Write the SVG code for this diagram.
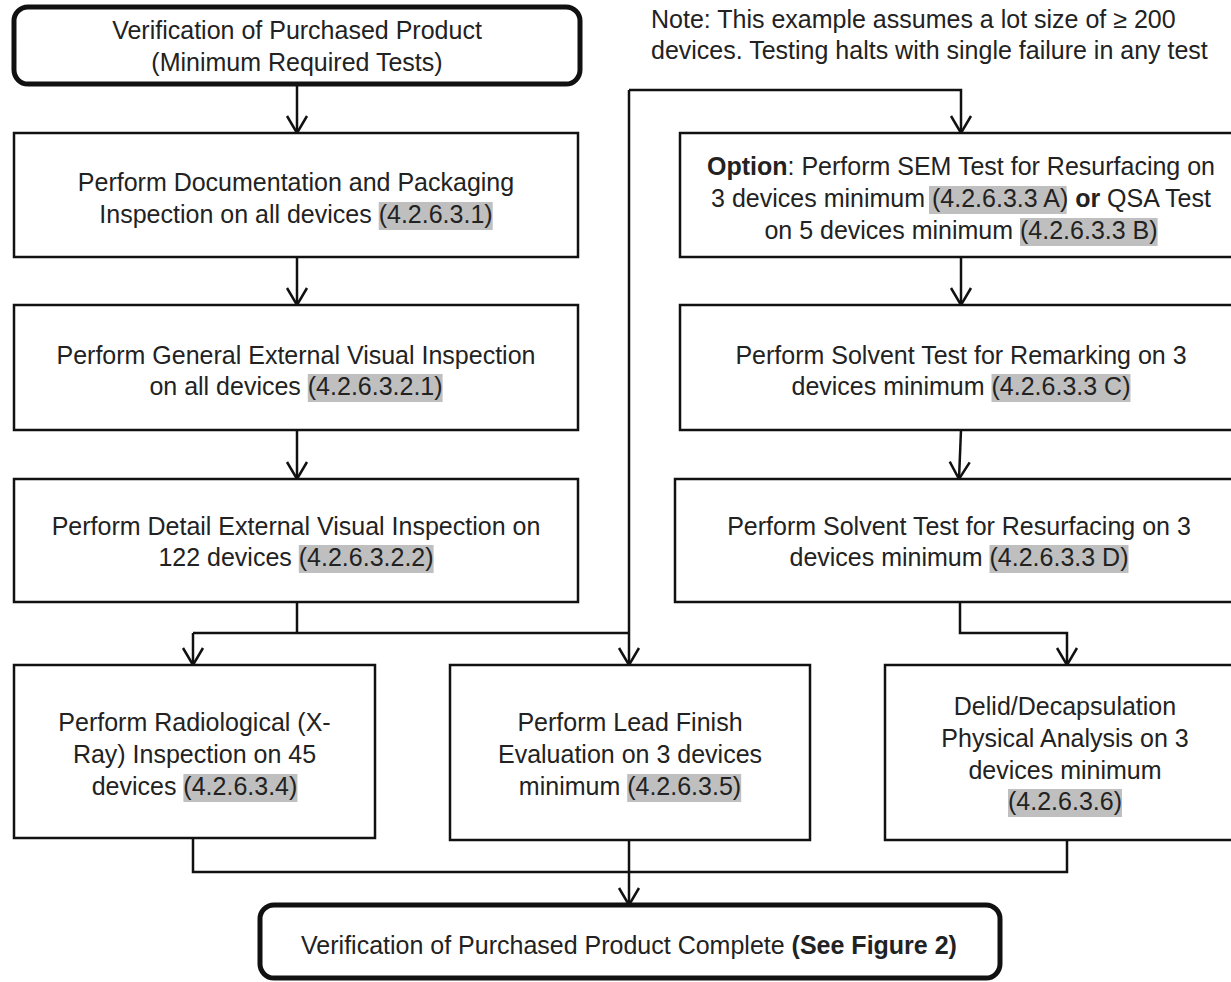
<svg xmlns="http://www.w3.org/2000/svg" width="1231" height="982" viewBox="0 0 1231 982">
<style>
.box{fill:#fff;stroke:#111;stroke-width:2.5}
.term{fill:#fff;stroke:#111;stroke-width:5}
.t{font-family:"Liberation Sans",Arial,sans-serif;font-size:25px;fill:#222;text-anchor:middle}
.ts{font-family:"Liberation Sans",Arial,sans-serif;font-size:25px;fill:#222;text-anchor:start}
.b{font-weight:bold}
.hl{fill:#bfbfbf}
.conn{fill:none;stroke:#111;stroke-width:2.5}
.arr{marker-end:url(#ah)}
</style>
<defs>
<marker id="ah" markerUnits="userSpaceOnUse" viewBox="-20 -12 22 24" markerWidth="22" markerHeight="24" refX="0" refY="0" orient="auto">
<path d="M-17,-10 L0,0 L-17,10" fill="none" stroke="#111" stroke-width="2.5"/>
</marker>
</defs>
<rect width="1231" height="982" fill="#fff"/>

<g id="connectors">
<path class="conn arr" d="M297,86 V133"/>
<path class="conn arr" d="M297,257 V305"/>
<path class="conn arr" d="M297,430 V479"/>
<path class="conn" d="M297,602 V633"/>
<path class="conn" d="M193,633 H629"/>
<path class="conn arr" d="M193,633 V665"/>
<path class="conn arr" d="M629,90 V665"/>
<path class="conn arr" d="M629,90 H961 V133"/>
<path class="conn arr" d="M961,257 V305"/>
<path class="conn arr" d="M961,430 L959,479"/>
<path class="conn arr" d="M960,602 V633 H1067 V665"/>
<path class="conn" d="M193,838 V872 H1067 V840"/>
<path class="conn arr" d="M629,840 V905"/>
</g>

<g id="note">
<text class="ts" x="651" y="28">Note: This example assumes a lot size of ≥ 200</text>
<text class="ts" x="651" y="59">devices. Testing halts with single failure in any test</text>
</g>

<g id="start">
<rect class="term" x="14" y="7" width="566" height="77" rx="14"/>
<text class="t" x="297" y="39">Verification of Purchased Product</text>
<text class="t" x="297" y="71">(Minimum Required Tests)</text>
</g>

<g id="doc-inspection">
<rect class="box" x="14" y="133" width="564" height="124"/>
<rect class="hl" x="378.7" y="202" width="114" height="28"/>
<text class="t" x="296" y="191">Perform Documentation and Packaging</text>
<text class="t" x="296" y="223">Inspection on all devices (4.2.6.3.1)</text>
</g>

<g id="general-visual">
<rect class="box" x="14" y="305" width="564" height="125"/>
<rect class="hl" x="307.8" y="374" width="134.8" height="28"/>
<text class="t" x="296" y="364">Perform General External Visual Inspection</text>
<text class="t" x="296" y="395">on all devices (4.2.6.3.2.1)</text>
</g>

<g id="detail-visual">
<rect class="box" x="14" y="479" width="564" height="123"/>
<rect class="hl" x="298.8" y="545" width="134.8" height="28"/>
<text class="t" x="296" y="535">Perform Detail External Visual Inspection on</text>
<text class="t" x="296" y="566">122 devices (4.2.6.3.2.2)</text>
</g>

<g id="sem-qsa">
<rect class="box" x="680" y="133" width="565" height="124"/>
<rect class="hl" x="929" y="186" width="137.6" height="28"/>
<rect class="hl" x="1020" y="218" width="137.6" height="28"/>
<text class="t" x="961" y="175"><tspan class="b">Option</tspan>: Perform SEM Test for Resurfacing on</text>
<text class="t" x="961" y="207">3 devices minimum (4.2.6.3.3 A) <tspan class="b">or</tspan> QSA Test</text>
<text class="t" x="961" y="239">on 5 devices minimum (4.2.6.3.3 B)</text>
</g>

<g id="solvent-remarking">
<rect class="box" x="680" y="305" width="565" height="125"/>
<rect class="hl" x="991.5" y="374" width="139" height="28"/>
<text class="t" x="961" y="364">Perform Solvent Test for Remarking on 3</text>
<text class="t" x="961" y="395">devices minimum (4.2.6.3.3 C)</text>
</g>

<g id="solvent-resurfacing">
<rect class="box" x="675" y="479" width="570" height="123"/>
<rect class="hl" x="989.5" y="545" width="139" height="28"/>
<text class="t" x="959" y="535">Perform Solvent Test for Resurfacing on 3</text>
<text class="t" x="959" y="566">devices minimum (4.2.6.3.3 D)</text>
</g>

<g id="radiological">
<rect class="box" x="14" y="665" width="361" height="173"/>
<rect class="hl" x="183.4" y="774" width="114" height="28"/>
<text class="t" x="194.5" y="731">Perform Radiological (X-</text>
<text class="t" x="194.5" y="763">Ray) Inspection on 45</text>
<text class="t" x="194.5" y="795">devices (4.2.6.3.4)</text>
</g>

<g id="lead-finish">
<rect class="box" x="450" y="665" width="360" height="175"/>
<rect class="hl" x="627.2" y="774" width="114" height="28"/>
<text class="t" x="630" y="731">Perform Lead Finish</text>
<text class="t" x="630" y="763">Evaluation on 3 devices</text>
<text class="t" x="630" y="795">minimum (4.2.6.3.5)</text>
</g>

<g id="delid">
<rect class="box" x="885" y="665" width="360" height="175"/>
<rect class="hl" x="1008" y="789" width="114" height="28"/>
<text class="t" x="1065" y="715">Delid/Decapsulation</text>
<text class="t" x="1065" y="747">Physical Analysis on 3</text>
<text class="t" x="1065" y="779">devices minimum</text>
<text class="t" x="1065" y="810">(4.2.6.3.6)</text>
</g>

<g id="complete">
<rect class="term" x="260" y="905" width="740" height="73" rx="14"/>
<text class="t" x="629" y="954">Verification of Purchased Product Complete <tspan class="b">(See Figure 2)</tspan></text>
</g>
</svg>
